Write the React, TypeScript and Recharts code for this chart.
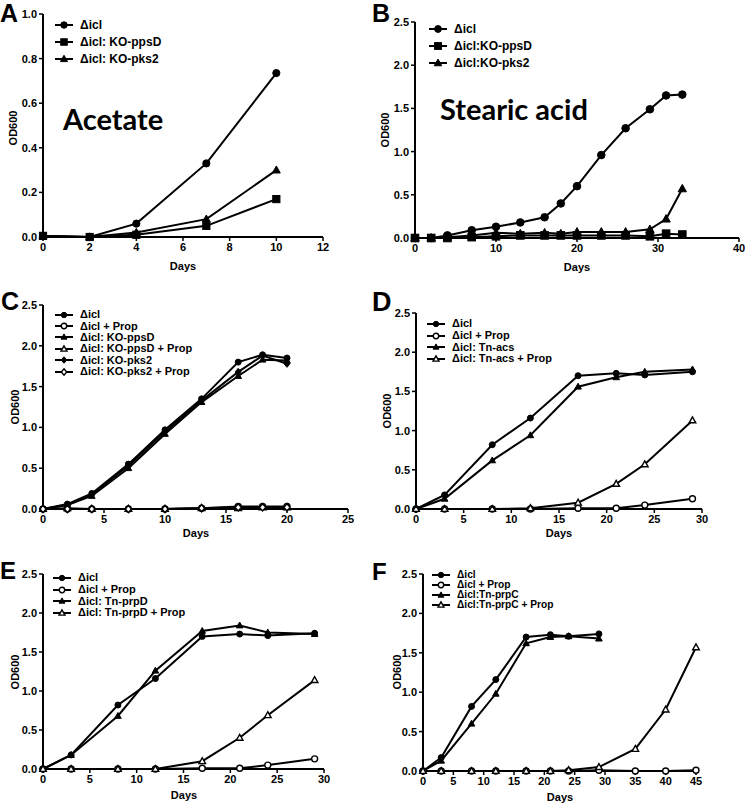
import React from "react";
import { LineChart, Line, XAxis, YAxis } from "recharts";

// ---- data ----
const daysA = [0, 2, 4, 7, 10];
const aIcl = [0.005, 0, 0.06, 0.33, 0.735];
const aPpsD = [0.005, 0, 0.01, 0.05, 0.17];
const aPks2 = [0.005, 0, 0.02, 0.08, 0.3];

const daysB = [0, 2, 4, 7, 10, 13, 16, 18, 20, 23, 26, 29, 31, 33];
const bIcl = [0, 0, 0.03, 0.09, 0.13, 0.18, 0.24, 0.4, 0.6, 0.96, 1.27, 1.49, 1.65, 1.66];
const bPpsD = [0, 0, 0, 0.01, 0.02, 0.03, 0.03, 0.03, 0.03, 0.03, 0.03, 0.02, 0.05, 0.04];
const bPks2 = [0, 0, 0.01, 0.03, 0.06, 0.05, 0.06, 0.05, 0.07, 0.07, 0.07, 0.1, 0.22, 0.57];

const daysC = [0, 2, 4, 7, 10, 13, 16, 18, 20];
const cIcl = [0, 0.06, 0.19, 0.55, 0.97, 1.35, 1.8, 1.89, 1.85];
const cIclProp = [0, 0, 0, 0, 0, 0.01, 0.03, 0.03, 0.03];
const cPpsD = [0, 0.05, 0.16, 0.5, 0.92, 1.31, 1.63, 1.83, 1.82];
const cPpsDProp = [0, 0.01, 0, 0, 0, 0.01, 0.01, 0.02, 0.02];
const cPks2 = [0, 0.05, 0.18, 0.53, 0.95, 1.33, 1.68, 1.88, 1.78];
const cPks2Prop = [0, 0, 0, 0, 0, 0.01, 0.02, 0.02, 0.02];

const daysD = [0, 3, 8, 12, 17, 21, 24, 29];
const dIcl = [0, 0.18, 0.82, 1.16, 1.7, 1.73, 1.71, 1.75];
const dIclProp = [0, 0, 0, 0, 0.01, 0.01, 0.05, 0.13];
const dAcs = [0, 0.13, 0.62, 0.94, 1.56, 1.68, 1.75, 1.78];
const dAcsProp = [0, 0, 0, 0.01, 0.08, 0.32, 0.57, 1.13];

const daysE = [0, 3, 8, 12, 17, 21, 24, 29];
const eIcl = [0, 0.18, 0.82, 1.16, 1.7, 1.73, 1.71, 1.74];
const eIclProp = [0, 0, 0, 0, 0.01, 0.01, 0.05, 0.13];
const ePrpD = [0, 0.18, 0.68, 1.26, 1.77, 1.84, 1.75, 1.73];
const ePrpDProp = [0, 0, 0, 0, 0.1, 0.4, 0.69, 1.14];

const daysF = [0, 3, 8, 12, 17, 21, 24, 29];
const daysFLong = [0, 3, 8, 12, 17, 21, 24, 29, 35, 40, 45];
const fIcl = [0, 0.17, 0.82, 1.16, 1.7, 1.73, 1.71, 1.74];
const fIclProp = [0, 0, 0, 0, 0, 0, 0, 0.01, 0, 0, 0.01];
const fPrpC = [0, 0.13, 0.6, 0.98, 1.62, 1.7, 1.71, 1.68];
const fPrpCProp = [0, 0, 0, 0, 0, 0, 0.01, 0.05, 0.28, 0.78, 1.57];

const ticksA = [0, 2, 4, 6, 8, 10, 12];
const ticksAy = [0, 0.2, 0.4, 0.6, 0.8, 1.0];
const ticksB = [0, 10, 20, 30, 40];
const ticksC = [0, 5, 10, 15, 20, 25];
const ticks30 = [0, 5, 10, 15, 20, 25, 30];
const ticksF = [0, 5, 10, 15, 20, 25, 30, 35, 40, 45];
const ticksOD = [0, 0.5, 1.0, 1.5, 2.0, 2.5];

const pts = (days: number[], vals: number[]) => days.map((d, i) => ({ day: d, od: vals[i] }));

const FONT = "'Liberation Sans', Arial, sans-serif";

type Shape = "circle" | "ocircle" | "square" | "triangle" | "otriangle" | "diamond" | "odiamond";

function Marker({ cx, cy, shape, s }: { cx: number; cy: number; shape: Shape; s: number }) {
  const open = shape.startsWith("o");
  const fill = open ? "#fff" : "#000";
  const common = { fill, stroke: "#000", strokeWidth: open ? 1.4 : 1 };
  if (shape === "circle" || shape === "ocircle") return <circle cx={cx} cy={cy} r={s} {...common} />;
  if (shape === "square") return <rect x={cx - s} y={cy - s} width={2 * s} height={2 * s} {...common} />;
  if (shape === "triangle" || shape === "otriangle")
    return <polygon points={`${cx},${cy - s * 1.15} ${cx - s * 1.1},${cy + s * 0.8} ${cx + s * 1.1},${cy + s * 0.8}`} {...common} />;
  return <polygon points={`${cx},${cy - s * 1.2} ${cx + s},${cy} ${cx},${cy + s * 1.2} ${cx - s},${cy}`} {...common} />;
}

type Series = { name: string; shape: Shape; data: { day: number; od: number }[] };

type PanelProps = {
  letter: string;
  left: number;
  top: number;
  width: number;
  height: number;
  margin: { top: number; right: number; bottom: number; left: number };
  xDomain: [number, number];
  xTicks: number[];
  yDomain: [number, number];
  yTicks: number[];
  series: Series[];
  ms: number;
  letterPos: { x: number; y: number; size: number };
  legendPos: { x: number; y: number; gap: number; size: number };
  odPos: { x: number; y: number };
  daysPos: { x: number; y: number };
  big?: { text: string; x: number; y: number; size: number };
};

function Panel(p: PanelProps) {
  const textStyle: React.CSSProperties = { position: "absolute", fontFamily: FONT, fontWeight: "bold", color: "#000", whiteSpace: "nowrap", lineHeight: 1 };
  return (
    <>
      <div style={{ position: "absolute", left: p.left, top: p.top }}>
        <LineChart width={p.width} height={p.height} margin={p.margin}>
          <XAxis
            type="number"
            dataKey="day"
            domain={p.xDomain}
            ticks={p.xTicks}
            interval={0}
            height={20}
            axisLine={{ stroke: "#000", strokeWidth: 2 }}
            tickLine={{ stroke: "#000", strokeWidth: 1.5 }}
            tickSize={4}
            tick={{ fill: "#000", fontSize: 11, fontWeight: "bold", fontFamily: FONT }}
          />
          <YAxis
            type="number"
            dataKey="od"
            domain={p.yDomain}
            ticks={p.yTicks}
            interval={0}
            width={30}
            tickFormatter={(v: number) => v.toFixed(1)}
            axisLine={{ stroke: "#000", strokeWidth: 2 }}
            tickLine={{ stroke: "#000", strokeWidth: 1.5 }}
            tickSize={4}
            tick={{ fill: "#000", fontSize: 11, fontWeight: "bold", fontFamily: FONT }}
          />
          {p.series.map((s) => (
            <Line
              key={s.name}
              data={s.data}
              dataKey="od"
              name={s.name}
              type="linear"
              stroke="#000"
              strokeWidth={2}
              isAnimationActive={false}
              dot={(d: any) => <Marker key={`${s.name}-${d.index}`} cx={d.cx} cy={d.cy} shape={s.shape} s={p.ms} />}
              activeDot={false}
            />
          ))}
        </LineChart>
      </div>
      <div style={{ ...textStyle, left: p.letterPos.x, top: p.letterPos.y, fontSize: p.letterPos.size }}>{p.letter}</div>
      <div style={{ position: "absolute", left: p.legendPos.x, top: p.legendPos.y }}>
        {p.series.map((s) => (
          <div key={s.name} style={{ display: "flex", alignItems: "center", height: p.legendPos.gap }}>
            <svg width={20} height={10} style={{ marginRight: 6 }}>
              <line x1={1} y1={5} x2={19} y2={5} stroke="#000" strokeWidth={2} />
              <Marker cx={10} cy={5} shape={s.shape} s={p.ms * 0.9} />
            </svg>
            <span style={{ fontFamily: FONT, fontWeight: "bold", fontSize: p.legendPos.size, whiteSpace: "nowrap", lineHeight: 1 }}>
              {s.name}
            </span>
          </div>
        ))}
      </div>
      <div style={{ ...textStyle, left: p.odPos.x, top: p.odPos.y, fontSize: 11, transform: "translate(-50%, -50%) rotate(-90deg)" }}>OD600</div>
      <div style={{ ...textStyle, left: p.daysPos.x, top: p.daysPos.y, fontSize: 11, transform: "translate(-50%, -50%)" }}>Days</div>
      {p.big && (
        <div style={{ position: "absolute", left: p.big.x, top: p.big.y, fontFamily: "Lato, sans-serif", fontWeight: "bold", fontSize: p.big.size, lineHeight: 1, whiteSpace: "nowrap" }}>
          {p.big.text}
        </div>
      )}
    </>
  );
}

export default function App() {
  return (
    <div style={{ position: "absolute", left: 0, top: 0, width: 745, height: 803, background: "#fff", overflow: "hidden" }}>
      <Panel
        letter="A"
        left={0}
        top={0}
        width={340}
        height={270}
        margin={{ top: 14, right: 17, bottom: 13, left: 13 }}
        xDomain={[0, 12]}
        xTicks={ticksA}
        yDomain={[0, 1]}
        yTicks={ticksAy}
        ms={3.6}
        series={[
          { name: "Δicl", shape: "circle", data: pts(daysA, aIcl) },
          { name: "Δicl: KO-ppsD", shape: "square", data: pts(daysA, aPpsD) },
          { name: "Δicl: KO-pks2", shape: "triangle", data: pts(daysA, aPks2) },
        ]}
        letterPos={{ x: 0, y: 1, size: 25 }}
        legendPos={{ x: 54, y: 16, gap: 17, size: 12 }}
        odPos={{ x: 13, y: 128 }}
        daysPos={{ x: 183, y: 266 }}
        big={{ text: "Acetate", x: 63, y: 104, size: 29 }}
      />
      <Panel
        letter="B"
        left={372}
        top={0}
        width={373}
        height={270}
        margin={{ top: 22, right: 6, bottom: 12, left: 13 }}
        xDomain={[0, 40]}
        xTicks={ticksB}
        yDomain={[0, 2.5]}
        yTicks={ticksOD}
        ms={3.8}
        series={[
          { name: "Δicl", shape: "circle", data: pts(daysB, bIcl) },
          { name: "Δicl:KO-ppsD", shape: "square", data: pts(daysB, bPpsD) },
          { name: "Δicl:KO-pks2", shape: "triangle", data: pts(daysB, bPks2) },
        ]}
        letterPos={{ x: 372, y: 1, size: 25 }}
        legendPos={{ x: 428, y: 20, gap: 17, size: 12 }}
        odPos={{ x: 385, y: 130 }}
        daysPos={{ x: 577, y: 267 }}
        big={{ text: "Stearic acid", x: 440, y: 94, size: 29 }}
      />
      <Panel
        letter="C"
        left={0}
        top={270}
        width={372}
        height={265}
        margin={{ top: 35, right: 24, bottom: 6, left: 13 }}
        xDomain={[0, 25]}
        xTicks={ticksC}
        yDomain={[0, 2.5]}
        yTicks={ticksOD}
        ms={3}
        series={[
          { name: "Δicl", shape: "circle", data: pts(daysC, cIcl) },
          { name: "Δicl + Prop", shape: "ocircle", data: pts(daysC, cIclProp) },
          { name: "Δicl: KO-ppsD", shape: "triangle", data: pts(daysC, cPpsD) },
          { name: "Δicl: KO-ppsD + Prop", shape: "otriangle", data: pts(daysC, cPpsDProp) },
          { name: "Δicl: KO-pks2", shape: "diamond", data: pts(daysC, cPks2) },
          { name: "Δicl: KO-pks2 + Prop", shape: "odiamond", data: pts(daysC, cPks2Prop) },
        ]}
        letterPos={{ x: 1, y: 289, size: 25 }}
        legendPos={{ x: 54, y: 309, gap: 11.4, size: 11 }}
        odPos={{ x: 15, y: 407 }}
        daysPos={{ x: 196, y: 533 }}
      />
      <Panel
        letter="D"
        left={372}
        top={270}
        width={373}
        height={265}
        margin={{ top: 43, right: 43, bottom: 6, left: 14 }}
        xDomain={[0, 30]}
        xTicks={ticks30}
        yDomain={[0, 2.5]}
        yTicks={ticksOD}
        ms={3}
        series={[
          { name: "Δicl", shape: "circle", data: pts(daysD, dIcl) },
          { name: "Δicl + Prop", shape: "ocircle", data: pts(daysD, dIclProp) },
          { name: "Δicl: Tn-acs", shape: "triangle", data: pts(daysD, dAcs) },
          { name: "Δicl: Tn-acs + Prop", shape: "otriangle", data: pts(daysD, dAcsProp) },
        ]}
        letterPos={{ x: 372, y: 289, size: 27 }}
        legendPos={{ x: 426, y: 318, gap: 11.7, size: 11 }}
        odPos={{ x: 387, y: 411 }}
        daysPos={{ x: 559, y: 533 }}
      />
      <Panel
        letter="E"
        left={0}
        top={535}
        width={372}
        height={268}
        margin={{ top: 39, right: 48, bottom: 14, left: 13 }}
        xDomain={[0, 30]}
        xTicks={ticks30}
        yDomain={[0, 2.5]}
        yTicks={ticksOD}
        ms={3}
        series={[
          { name: "Δicl", shape: "circle", data: pts(daysE, eIcl) },
          { name: "Δicl + Prop", shape: "ocircle", data: pts(daysE, eIclProp) },
          { name: "Δicl: Tn-prpD", shape: "triangle", data: pts(daysE, ePrpD) },
          { name: "Δicl: Tn-prpD + Prop", shape: "otriangle", data: pts(daysE, ePrpDProp) },
        ]}
        letterPos={{ x: 0, y: 559, size: 24 }}
        legendPos={{ x: 52, y: 572, gap: 11.7, size: 11 }}
        odPos={{ x: 15, y: 672 }}
        daysPos={{ x: 184, y: 795 }}
      />
      <Panel
        letter="F"
        left={372}
        top={535}
        width={373}
        height={268}
        margin={{ top: 39, right: 49, bottom: 12, left: 21 }}
        xDomain={[0, 45]}
        xTicks={ticksF}
        yDomain={[0, 2.5]}
        yTicks={ticksOD}
        ms={3}
        series={[
          { name: "Δicl", shape: "circle", data: pts(daysF, fIcl) },
          { name: "Δicl + Prop", shape: "ocircle", data: pts(daysFLong, fIclProp) },
          { name: "Δicl:Tn-prpC", shape: "triangle", data: pts(daysF, fPrpC) },
          { name: "Δicl:Tn-prpC + Prop", shape: "otriangle", data: pts(daysFLong, fPrpCProp) },
        ]}
        letterPos={{ x: 372, y: 560, size: 24 }}
        legendPos={{ x: 431, y: 570, gap: 10, size: 10.2 }}
        odPos={{ x: 397, y: 672 }}
        daysPos={{ x: 560, y: 797 }}
      />
    </div>
  );
}
